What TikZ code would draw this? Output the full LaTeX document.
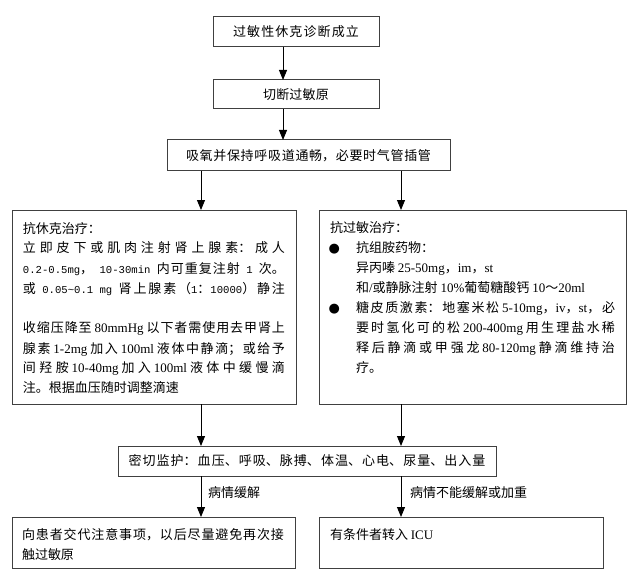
\documentclass[tikz,border=0pt]{standalone}
\usepackage{fontspec}
\setmainfont{Noto Sans CJK SC}
\newfontfamily\latfont{Liberation Serif}
\newfontfamily\monfont{Liberation Mono}
\newfontfamily\dvfont{DejaVu Sans}
\usetikzlibrary{arrows.meta}
\XeTeXlinebreaklocale "zh"
\XeTeXlinebreakskip=0pt plus 1fil
\newcommand\bodyfont{\fontsize{13pt}{20pt}\selectfont\leftskip=0pt\rightskip=0pt\parfillskip=0pt plus 1fill\relax}
\newcommand\justfont{\fontsize{13pt}{20pt}\selectfont\leftskip=0pt\rightskip=0pt\parfillskip=0pt\relax}
\newcommand\brk{\hfill\break}
\newcommand\latw[1]{{\latfont #1}}
\newcommand\monw[1]{{\monfont\fontsize{10.6pt}{20pt}\selectfont #1}}
\newcommand\bul{\llap{{\dvfont ●}\hskip 16pt}}
\begin{document}
\begin{tikzpicture}[x=1pt,y=-1pt,
  box/.style={draw=black!75, line width=1pt, inner sep=0pt, outer sep=0pt, align=justify},
  txt/.style={inner sep=0pt, outer sep=0pt, anchor=base west, align=justify},
  arr/.style={draw=black, line width=0.9pt, -{Triangle[width=8pt,length=10pt]}}]
\useasboundingbox (0,0) rectangle (640,575);
\coordinate (cm) at (283,0);
\coordinate (cl) at (201,0);
\coordinate (cr) at (401,0);
% boxes
\node[box, minimum width=166pt, minimum height=30pt, text width=126pt] (b1) at (296,32) {\justfont 过敏性休克诊断成立\par};
\node[box, minimum width=166pt, minimum height=29pt, text width=66pt] (b2) at (296,94.5) {\justfont 切断过敏原\par};
\node[box, minimum width=283pt, minimum height=31pt, text width=245pt] (b3) at (308.5,155.5) {\justfont 吸氧并保持呼吸道通畅，必要时气管插管\par};
\node[box, minimum width=284pt, minimum height=194pt] (lbox) at (154,307) {};
\node[box, minimum width=307pt, minimum height=194pt] (rbox) at (472.5,307) {};
\node[box, minimum width=378pt, minimum height=30pt, text width=357pt] (mon) at (307,461) {\justfont 密切监护：血压、呼吸、脉搏、体温、心电、尿量、出入量\par};
\node[box, minimum width=283pt, minimum height=51pt] (blbox) at (153.5,542.5) {};
\node[box, minimum width=284pt, minimum height=51pt] (brbox) at (461,542.5) {};
% texts
\node[txt, text width=262pt] (ltext) at (23,233) {\bodyfont 抗休克治疗：\brk
立即皮下或肌肉注射肾上腺素：成人\break
\monw{0.2-0.5mg}，\monw{ 10-30min }内可重复注射\monw{ 1 }次。\break
或\monw{ 0.05\textasciitilde0.1 mg }肾上腺素（\monw{1}：\monw{10000}）静注\break
\mbox{}\brk
收缩压降至 \latw{80mmHg} 以下者需使用去甲肾上\break
腺素 \latw{1-2mg} 加入 \latw{100ml} 液体中静滴；或给予\break
间羟胺 \latw{10-40mg} 加入 \latw{100ml} 液体中缓慢滴\break
注。根据血压随时调整滴速\par};
\node[txt] (rtitle) at (330,232) {\bodyfont 抗过敏治疗：};
\node[txt, text width=259pt] (rtext) at (356,252) {\bodyfont\leavevmode\bul 抗组胺药物：\brk
异丙嗪 \latw{25-50mg}，\latw{im}，\latw{st}\brk
和\latw{/}或静脉注射 \latw{10\%}葡萄糖酸钙 \latw{10}～\latw{20ml}\brk
\bul 糖皮质激素：地塞米松 \latw{5-10mg}，\latw{iv}，\latw{st}，必\break
要时氢化可的松 \latw{200-400mg} 用生理盐水稀\break
释后静滴或甲强龙 \latw{80-120mg} 静滴维持治\break
疗。\par};
\node[txt] (lab1) at (208,497) {\bodyfont 病情缓解};
\node[txt] (lab2) at (410,497) {\bodyfont 病情不能缓解或加重};
\node[txt, text width=262pt] (bltext) at (22,539) {\bodyfont 向患者交代注意事项，以后尽量避免再次接\break
触过敏原\par};
\node[txt] (brtext) at (330,539) {\bodyfont 有条件者转入 \latw{ICU}};
% connectors
\draw[arr] (b1.south -| cm) -- (b2.north -| cm);
\draw[arr] (b2.south -| cm) -- (b3.north -| cm);
\draw[arr] (b3.south -| cl) -- (lbox.north -| cl);
\draw[arr] (b3.south -| cr) -- (rbox.north -| cr);
\draw[arr] (lbox.south -| cl) -- (mon.north -| cl);
\draw[arr] (rbox.south -| cr) -- (mon.north -| cr);
\draw[arr] (mon.south -| cl) -- (blbox.north -| cl);
\draw[arr] (mon.south -| cr) -- (brbox.north -| cr);
\end{tikzpicture}
\end{document}
